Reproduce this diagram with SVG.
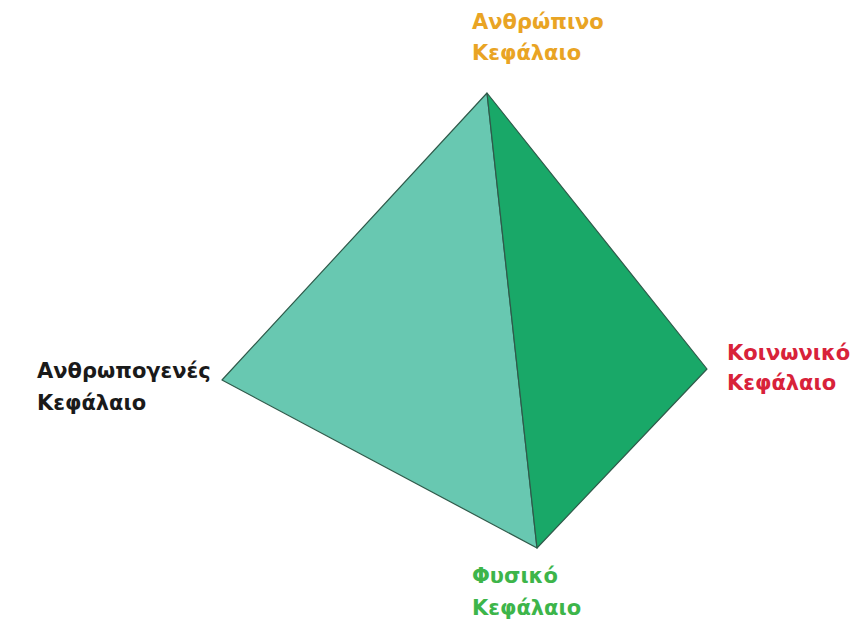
<svg xmlns="http://www.w3.org/2000/svg" width="861" height="623" viewBox="0 0 861 623">
<style>
text{font-family:"DejaVu Sans","Noto Sans",sans-serif;font-weight:bold;font-size:21px}
.edge{stroke:#2f5a4a;stroke-width:1.2;stroke-linejoin:round}
</style>
<rect width="861" height="623" fill="#ffffff"/>
<g id="pyramid">
<polygon class="edge" points="487,93 222,380 537,548" fill="#68c8b1"/>
<polygon class="edge" points="487,93 707,369 537,548" fill="#19a868"/>
</g>
<g id="node-human">
<text x="472" y="29" fill="#e9a424">Ανθρώπινο</text>
<text x="472" y="60" fill="#e9a424">Κεφάλαιο</text>
</g>
<g id="node-manmade">
<text x="37" y="378" fill="#1a1a1a">Ανθρωπογενές</text>
<text x="37" y="410" fill="#1a1a1a">Κεφάλαιο</text>
</g>
<g id="node-social">
<text x="727" y="360" fill="#d8223a">Κοινωνικό</text>
<text x="727" y="390" fill="#d8223a">Κεφάλαιο</text>
</g>
<g id="node-natural">
<text x="472" y="583" fill="#3db54a">Φυσικό</text>
<text x="472" y="615" fill="#3db54a">Κεφάλαιο</text>
</g>
<g id="connectors"></g>
</svg>
